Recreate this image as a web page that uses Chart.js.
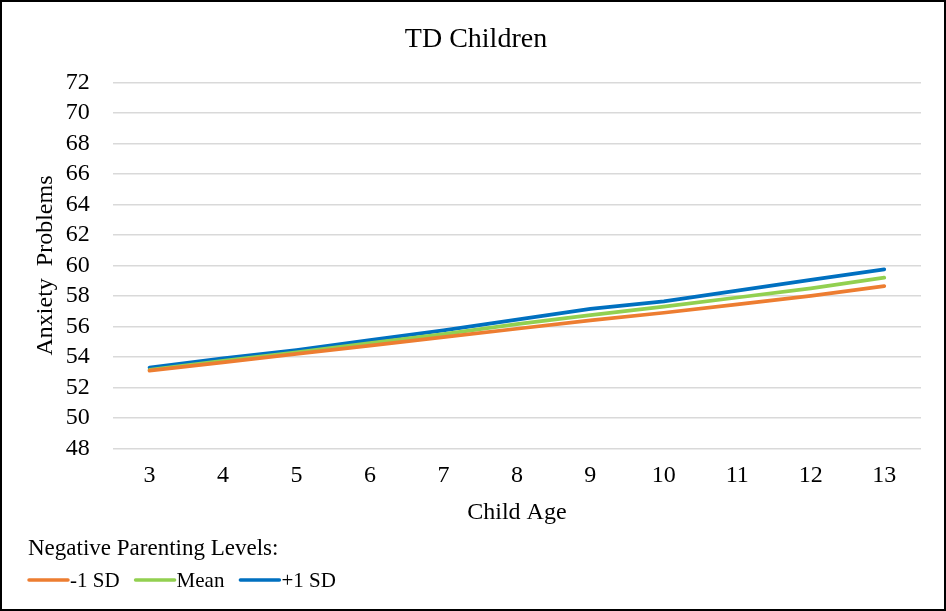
<!DOCTYPE html>
<html>
<head>
<meta charset="utf-8">
<script src="https://cdn.jsdelivr.net/npm/chart.js@4"></script>
<style>
    html, body { margin: 0; padding: 0; background: #fff; }
    .frame {
        width: 946px; height: 611px;
        box-sizing: border-box;
        border: 2px solid #000;
    }
    .frame canvas { display: block; }
</style>
</head>
<body>
<div class="frame"><canvas id="chart" width="942" height="607"></canvas></div>
<script>
// ========== Data ==========

const ages = ['3', '4', '5', '6', '7', '8', '9', '10', '11', '12', '13'];
const lowSD  = [53.10, 53.65, 54.20, 54.75, 55.30, 55.85, 56.40, 56.90, 57.45, 58.00, 58.65];
const meanSD = [53.15, 53.75, 54.30, 54.90, 55.50, 56.15, 56.75, 57.30, 57.90, 58.50, 59.20];
const highSD = [53.30, 53.90, 54.45, 55.10, 55.75, 56.45, 57.15, 57.65, 58.35, 59.05, 59.75];
const seriesNames = ['-1 SD', 'Mean', '+1 SD'];
const seriesColors = ['#ed7d31', '#92d050', '#0070c0'];
const legendTitle = 'Negative Parenting Levels:';

const serif = "'Liberation Serif', 'Times New Roman', serif";
const gridColor = '#d9d9d9';

// ========== Legend (drawn under the axis title) ==========

const bottomLegend = {
    id: 'bottomLegend',
    afterDraw(chart) {
        const c = chart.ctx;
        c.save();
        c.fillStyle = '#000';
        c.textBaseline = 'middle';
        c.textAlign = 'left';
        c.font = `23px ${serif}`;
        c.fillText(legendTitle, 26, 547);

        c.font = `21px ${serif}`;
        let x = 26;
        const y = 578;
        chart.data.datasets.forEach(ds => {
            c.strokeStyle = ds.borderColor;
            c.lineWidth = 3.5;
            c.lineCap = 'round';
            c.beginPath();
            c.moveTo(x + 1, y);
            c.lineTo(x + 40, y);
            c.stroke();
            c.fillText(ds.label, x + 42, y + 1);
            x += 42 + c.measureText(ds.label).width + 15;
        });
        c.restore();
    }
};

// ========== Chart ==========

const ctx = document.getElementById('chart').getContext('2d');

const datasets = [lowSD, meanSD, highSD].map((values, i) => ({
    label: seriesNames[i],
    data: values,
    borderColor: seriesColors[i],
    backgroundColor: seriesColors[i],
    borderWidth: 3.75,
    pointRadius: 0,
    tension: 0,
    borderCapStyle: 'round'
}));

// note: chart.js counts tick padding twice when sizing an axis,
// hence the negative title paddings below
new Chart(ctx, {
    type: 'line',
    data: { labels: ages, datasets },
    plugins: [bottomLegend],
    options: {
        responsive: false,
        animation: false,
        layout: { padding: { left: 29, right: 23, top: 0, bottom: 82 } },
        scales: {
            x: {
                offset: true,
                grid: { display: false, drawTicks: false },
                border: { display: false },
                ticks: { autoSkip: false, maxRotation: 0, color: '#000', font: { family: serif, size: 24 }, padding: 13 },
                title: {
                    display: true,
                    text: 'Child Age',
                    color: '#000',
                    font: { family: serif, size: 24 },
                    padding: { top: -5, bottom: 0 }
                }
            },
            y: {
                min: 48,
                max: 72,
                grid: { color: gridColor, lineWidth: 1.5, drawTicks: false },
                border: { display: false },
                ticks: { autoSkip: false, stepSize: 2, color: '#000', font: { family: serif, size: 24 }, padding: 23 },
                title: {
                    display: true,
                    text: 'Anxiety  Problems',
                    color: '#000',
                    font: { family: serif, size: 24 },
                    padding: { top: 0, bottom: -17 }
                }
            }
        },
        plugins: {
            title: {
                display: true,
                text: 'TD Children',
                color: '#000',
                font: { family: serif, size: 28, weight: 'normal' },
                padding: { top: 21, bottom: 26 }
            },
            legend: { display: false },
            tooltip: { enabled: false }
        }
    }
});
</script>
</body>
</html>
